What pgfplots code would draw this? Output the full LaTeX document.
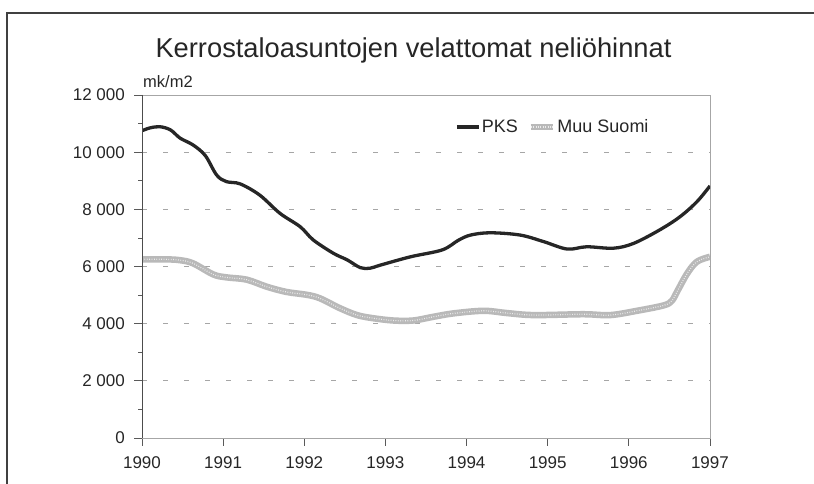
\documentclass[border=0pt]{standalone}
\usepackage{fontspec}
\setmainfont{Liberation Sans}
\usepackage{pgfplots}
\pgfplotsset{compat=1.18}

\begin{document}
\begin{tikzpicture}[x=1pt,y=1pt]
\useasboundingbox (0,0) rectangle (814,484);
% scanned frame (left and top edges only)
\draw[black!75, line width=1.4pt] (7,0) -- (7,471) -- (814,471);
\node[anchor=base, inner sep=0pt, font=\fontsize{27.3}{30}\selectfont, text=black!85]
  at (413.5,426) {Kerrostaloasuntojen velattomat neliöhinnat};
\node[anchor=base west, inner sep=0pt, font=\fontsize{16.5}{18}\selectfont, text=black!85]
  at (143,396) {mk/m2};
\begin{axis}[
  at={(142pt,46pt)}, anchor=south west,
  width=568pt, height=343pt, scale only axis,
  xmin=1990, xmax=1997, ymin=0, ymax=12000,
  xtick={1990,...,1997}, ytick={0,2000,...,12000},
  minor x tick num=3, minor y tick num=1,
  tick align=outside, xtick pos=bottom, ytick pos=left,
  major tick length=8pt, minor tick length=4pt,
  tick style={black!65, line width=0.7pt},
  axis line style={gray!70, line width=0.7pt},
  ymajorgrids, grid style={gray!70, line width=0.7pt, dash pattern=on 5pt off 16pt},
  ticklabel style={font=\fontsize{17}{19}\selectfont, text=black!85},
  /pgf/number format/assume math mode=true,
  scaled ticks=false,
  yticklabel style={/pgf/number format/1000 sep={\ }, inner sep=0pt, xshift=-9pt},
  xticklabel style={/pgf/number format/1000 sep={}, inner sep=0pt, yshift=-10pt},
  legend style={at={(0.551,0.9067)}, anchor=west, draw=none, fill=none, inner sep=0pt,
    font=\fontsize{18}{20}\selectfont, text=black!85,
    nodes={inner sep=1.5pt},
    /tikz/every even column/.append style={column sep=8pt}},
  legend columns=2,
  legend image code/.code={\draw[#1] (0pt,0pt) -- (22pt,0pt);},
]
% PKS
\addplot[black!85, line width=3.3pt, smooth, tension=0.55] coordinates {
(1990.00,10750)(1990.10,10850)(1990.22,10890)(1990.35,10780)(1990.47,10490)
(1990.63,10250)(1990.78,9880)(1990.92,9200)(1991.04,8970)(1991.21,8890)
(1991.45,8500)(1991.70,7860)(1991.95,7390)(1992.11,6930)(1992.36,6460)
(1992.53,6230)(1992.69,5960)(1992.81,5940)(1992.94,6050)(1993.31,6340)
(1993.70,6580)(1993.90,6920)(1994.05,7100)(1994.29,7180)(1994.66,7100)
(1994.95,6870)(1995.24,6610)(1995.48,6690)(1995.81,6640)(1996.06,6810)
(1996.38,7280)(1996.63,7740)(1996.84,8270)(1997.00,8820)};
\addlegendentry{PKS}
% Muu Suomi
\addplot[gray!55, line width=6.5pt, smooth, tension=0.55,
  postaction={draw, white!85!gray, line width=1.2pt, dash pattern=on 0.8pt off 1.6pt}] coordinates {
(1990.00,6250)(1990.30,6250)(1990.47,6220)(1990.63,6110)(1990.88,5720)
(1991.04,5620)(1991.29,5540)(1991.54,5290)(1991.78,5110)(1992.03,5010)
(1992.19,4890)(1992.44,4540)(1992.65,4300)(1992.85,4190)(1993.10,4110)
(1993.34,4110)(1993.59,4240)(1993.84,4360)(1994.21,4450)(1994.50,4370)
(1994.83,4300)(1995.44,4330)(1995.77,4300)(1996.10,4450)(1996.43,4640)
(1996.53,4800)(1996.60,5150)(1996.72,5760)(1996.84,6170)(1997.00,6340)};
\addlegendentry{Muu Suomi}
\draw[black!70, line width=0.9pt] (rel axis cs:0,1) -- (rel axis cs:0,0) -- (rel axis cs:1,0);
\end{axis}
\end{tikzpicture}
\end{document}
